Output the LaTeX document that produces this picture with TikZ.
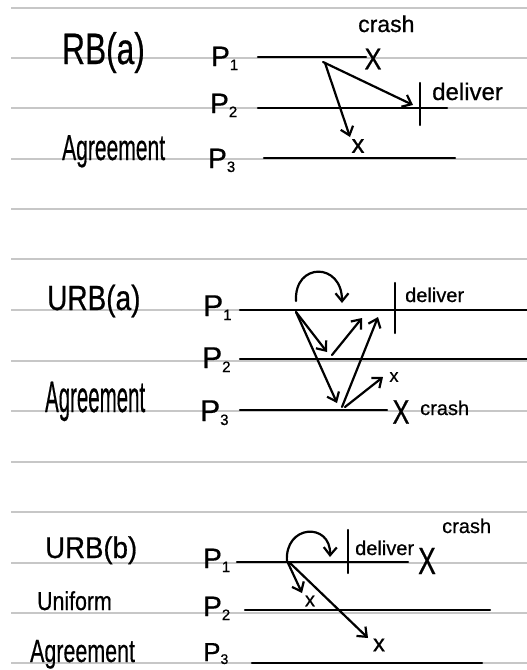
\documentclass[tikz,border=0pt]{standalone}
\usepackage{fontspec}
\setmainfont{Liberation Sans}[FakeBold=0.6]
\usetikzlibrary{arrows.meta}
\newcommand\plab[1]{P\raisebox{-4pt}{\fontsize{15}{15}\selectfont #1}}
\newcommand\fsz[1]{\fontsize{#1}{#1}\selectfont}
\begin{document}
\begin{tikzpicture}[x=1pt,y=-1pt,
  rule/.style={draw=black!22, line width=1.4pt},
  ink/.style={line width=2.2pt, line cap=round, line join=round},
  msg/.style={ink, -{Straight Barb[length=8pt,width=13pt]}},
  txt/.style={inner sep=0pt, anchor=base west},
  xmark/.style={inner sep=0pt, anchor=center}
]
\fill[white] (0,0) rectangle (527,670);
\useasboundingbox (0,0) rectangle (527,670);
% ruled paper
\foreach \yy in {8,58,108,159,209,259,310,361,411,462,512,563,613,663}
  \draw[rule] (11,\yy) -- (527,\yy);

%================ RB(a) ================
\node[txt, xscale=0.72] (t1) at (62,64) {\fsz{44}RB(a)};
\node[txt, xscale=0.585] (g1) at (62,160) {\fsz{36}Agreement};
\node[txt] (p11) at (211,66) {\fsz{28}\plab{1}};
\node[txt] (p12) at (210,113) {\fsz{28}\plab{2}};
\node[txt] (p13) at (208,168) {\fsz{28}\plab{3}};
\coordinate (a1s) at (258,57); \coordinate (a1e) at (366,57);
\coordinate (a2s) at (258,108); \coordinate (a2e) at (447,108);
\coordinate (a3s) at (264,158); \coordinate (a3e) at (455,158);
\draw[ink] (a1s) -- (a1e);
\draw[ink] (a2s) -- (a2e);
\draw[ink] (a3s) -- (a3e);
\node[xmark, xscale=0.85] (x11) at (373,59) {\fsz{30}X};
\node[txt] (c1) at (358,32) {\fsz{23}crash};
\coordinate (d1t) at (420,83); \coordinate (d1b) at (420,125);
\draw[ink] (d1t) -- (d1b);
\node[txt] (dl1) at (432,100) {\fsz{24}deliver};
\coordinate (m1) at (323,62); \coordinate (m1a) at (413,105);
\coordinate (m2) at (325,63); \coordinate (m2a) at (350,137);
\draw[msg] (m1) -- (m1a);
\draw[msg] (m2) -- (m2a);
\node[xmark] (x12) at (358,146) {\fsz{26}x};

%================ URB(a) ================
\node[txt, xscale=0.8] (t2) at (47,310) {\fsz{35}URB(a)};
\node[txt, xscale=0.465] (g2) at (45,412) {\fsz{44}Agreement};
\node[txt] (p21) at (203,316) {\fsz{30}\plab{1}};
\node[txt] (p22) at (202,368) {\fsz{30}\plab{2}};
\node[txt] (p23) at (200,421) {\fsz{30}\plab{3}};
\coordinate (b1s) at (240,310); \coordinate (b1e) at (527,310);
\coordinate (b2s) at (240,359); \coordinate (b2e) at (527,359);
\coordinate (b3s) at (240,410); \coordinate (b3e) at (387,410);
\draw[ink] (b1s) -- (b1e);
\draw[ink] (b2s) -- (b2e);
\draw[ink] (b3s) -- (b3e);
\coordinate (l2s) at (296,301); \coordinate (l2e) at (342,303);
\draw[msg] (l2s) .. controls (294,262) and (342,262) .. (l2e);
\coordinate (d2t) at (395,283); \coordinate (d2b) at (395,333);
\draw[ink] (d2t) -- (d2b);
\node[txt] (dl2) at (405,302) {\fsz{20}deliver};
\coordinate (n0) at (296,312);
\coordinate (n1) at (327,352); \coordinate (n2) at (337,403);
\coordinate (n3) at (332,355); \coordinate (n3a) at (362,318);
\coordinate (n4) at (342,407); \coordinate (n4a) at (378,317);
\coordinate (n5) at (345,407); \coordinate (n5a) at (383,377);
\draw[msg] (n0) -- (n1);
\draw[msg] (n0) -- (n2);
\draw[msg] (n3) -- (n3a);
\draw[msg] (n4) -- (n4a);
\draw[msg] (n5) -- (n5a);
\node[xmark] (x21) at (394,377) {\fsz{18}x};
\node[xmark, xscale=0.75] (x22) at (401,412) {\fsz{34}X};
\node[txt] (c2) at (420,415) {\fsz{20}crash};

%================ URB(b) ================
\node[txt, xscale=0.92] (t3) at (45,558) {\fsz{30}URB(b)};
\node[txt, xscale=0.82] (u3) at (37,610) {\fsz{26}Uniform};
\node[txt, xscale=0.67] (g3) at (30,662) {\fsz{32}Agreement};
\node[txt] (p31) at (203,568) {\fsz{28}\plab{1}};
\node[txt] (p32) at (203,616) {\fsz{28}\plab{2}};
\node[txt] (p33) at (203,661) {\fsz{26}P\raisebox{-3pt}{\fontsize{14}{14}\selectfont 3}};
\coordinate (c1s) at (237,562); \coordinate (c1e) at (408,562);
\coordinate (c2s) at (245,610); \coordinate (c2e) at (490,610);
\coordinate (c3s) at (252,663); \coordinate (c3e) at (482,663);
\draw[ink] (c1s) -- (c1e);
\draw[ink] (c2s) -- (c2e);
\draw[ink] (c3s) -- (c3e);
\coordinate (l3s) at (287,562); \coordinate (l3e) at (330,557);
\draw[msg] (l3s) .. controls (284,524) and (331,522) .. (l3e);
\coordinate (d3t) at (348,530); \coordinate (d3b) at (348,573);
\draw[ink] (d3t) -- (d3b);
\node[txt] (dl3) at (355,555) {\fsz{20}deliver};
\node[xmark, xscale=0.7] (x31) at (427,561) {\fsz{38}X};
\node[txt] (c3) at (442,533) {\fsz{20}crash};
\coordinate (k0) at (288,563); \coordinate (k1) at (302,593);
\coordinate (k2) at (290,563); \coordinate (k3) at (368,638);
\draw[msg] (k0) -- (k1);
\draw[msg] (k2) -- (k3);
\node[xmark] (x32) at (310,601) {\fsz{20}x};
\node[xmark] (x33) at (379,645) {\fsz{24}x};
\end{tikzpicture}
\end{document}
